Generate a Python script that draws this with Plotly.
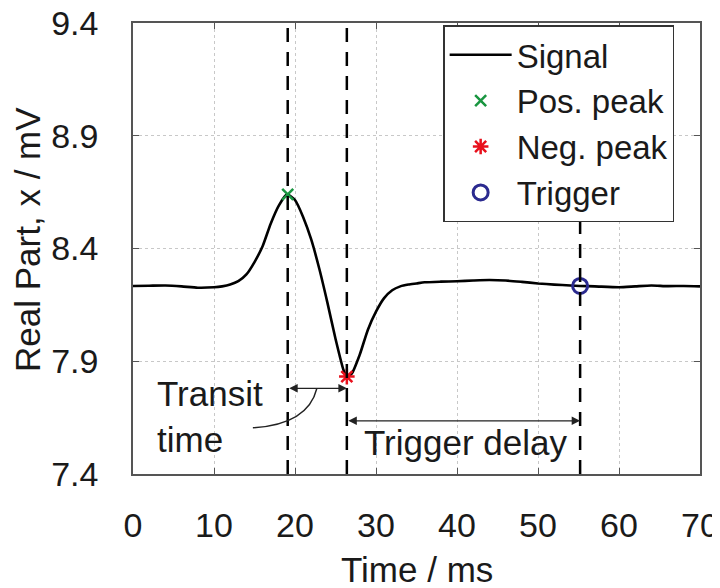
import plotly.graph_objects as go

# ---- data ----
time_ms = [0, 2, 4, 6, 8, 10, 11, 12, 13, 14, 15, 16, 17, 18, 19, 20, 21, 22, 23, 24,
           25, 26, 26.4, 27, 28, 29, 30, 31, 32, 33, 34, 35, 36, 38, 40, 42, 44, 46, 48,
           50, 52, 54, 55.2, 57, 60, 62, 64, 66, 68, 70]
signal_mv = [8.234, 8.235, 8.236, 8.232, 8.226, 8.228, 8.232, 8.240, 8.255, 8.285,
             8.34, 8.41, 8.51, 8.59, 8.64, 8.615, 8.54, 8.44, 8.31, 8.16,
             8.00, 7.86, 7.832, 7.845, 7.93, 8.04, 8.12, 8.18, 8.215, 8.232,
             8.24, 8.245, 8.25, 8.253, 8.255, 8.258, 8.26, 8.258, 8.252,
             8.245, 8.24, 8.236, 8.234, 8.232, 8.228, 8.232, 8.236, 8.233, 8.234, 8.232]

pos_peak_t, pos_peak_v = [19.1], [8.64]
neg_peak_t, neg_peak_v = [26.4], [7.832]
trigger_t, trigger_v = [55.2], [8.234]

x_ticks = [0, 10, 20, 30, 40, 50, 60, 70]
y_ticks = [7.4, 7.9, 8.4, 8.9, 9.4]

transit_arrow_y = 7.78
delay_arrow_y = 7.636

FONT = "Liberation Sans, Arial, Helvetica, sans-serif"
TXT = "#1a1a1a"
FS = 35

fig = go.Figure()
fig.add_trace(go.Scatter(x=time_ms, y=signal_mv, mode="lines", name="Signal",
                         line=dict(color="black", width=2.6, shape="spline", smoothing=0.6)))
fig.add_trace(go.Scatter(x=pos_peak_t, y=pos_peak_v, mode="markers", name="Pos. peak",
                         marker=dict(symbol="x-thin", size=11, color="#1a9641",
                                     line=dict(color="#1a9641", width=2.5))))
fig.add_trace(go.Scatter(x=neg_peak_t, y=neg_peak_v, mode="markers", name="Neg. peak",
                         marker=dict(symbol="asterisk", size=13, color="#e8101c",
                                     line=dict(color="#e8101c", width=2.5))))
fig.add_trace(go.Scatter(x=trigger_t, y=trigger_v, mode="markers", name="Trigger",
                         marker=dict(symbol="circle-open", size=15, color="#2b2a8f",
                                     line=dict(color="#2b2a8f", width=3))))

# vertical dashed lines
for t in [pos_peak_t[0], neg_peak_t[0], trigger_t[0]]:
    fig.add_shape(type="line", xref="x", yref="paper", x0=t, x1=t, y0=0, y1=1,
                  line=dict(color="black", width=2.5, dash="14px,10px"), layer="above")

# double arrows
fig.add_annotation(x=neg_peak_t[0], y=transit_arrow_y, ax=pos_peak_t[0], ay=transit_arrow_y,
                   xref="x", yref="y", axref="x", ayref="y", text="", showarrow=True,
                   arrowhead=2, arrowside="end+start", arrowsize=1.3, arrowwidth=1.3,
                   arrowcolor="#222", standoff=0, startstandoff=0)
fig.add_annotation(x=trigger_t[0], y=delay_arrow_y, ax=neg_peak_t[0], ay=delay_arrow_y,
                   xref="x", yref="y", axref="x", ayref="y", text="", showarrow=True,
                   arrowhead=2, arrowside="end+start", arrowsize=1.3, arrowwidth=1.3,
                   arrowcolor="#222", standoff=0, startstandoff=0)

# curved leader from "time" to transit arrow
fig.add_shape(type="path", xref="x", yref="y",
              path="M 14.8,7.605 Q 21.6,7.62 22.7,%.3f" % transit_arrow_y,
              line=dict(color="#222", width=1.5))

fig.add_annotation(x=2.7, y=7.655, xref="x", yref="y", text="Transit<br>time",
                   showarrow=False, xanchor="left", yanchor="middle", align="left",
                   font=dict(family=FONT, size=FS, color=TXT))
fig.add_annotation(x=41.0, y=7.54, xref="x", yref="y", text="Trigger delay",
                   showarrow=False, xanchor="center", yanchor="middle",
                   font=dict(family=FONT, size=FS, color=TXT))

# axis titles
fig.add_annotation(x=0.5, y=0, xref="paper", yref="paper", text="Time / ms",
                   showarrow=False, xanchor="center", yanchor="middle", yshift=-95,
                   borderpad=0, font=dict(family=FONT, size=FS, color=TXT))
fig.add_annotation(x=0, y=0.519, xref="paper", yref="paper", text="Real Part, x / mV",
                   showarrow=False, xanchor="center", yanchor="middle", textangle=-90,
                   xshift=-105, borderpad=0, font=dict(family=FONT, size=FS, color=TXT))

axis_common = dict(showline=True, linecolor="#555", linewidth=1.5, mirror="ticks",
                   ticks="inside", ticklen=6, tickcolor="#555", tickwidth=1.2,
                   showgrid=True, gridcolor="#c8c8c8", griddash="dot", gridwidth=1,
                   zeroline=False, automargin=False, ticklabeloverflow="allow",
                   tickfont=dict(family=FONT, size=34, color=TXT))

fig.update_xaxes(range=[0, 70], tickvals=x_ticks, ticktext=[str(v) for v in x_ticks],
                 ticklabelstandoff=20, **axis_common)
fig.update_yaxes(range=[7.4, 9.4], tickvals=y_ticks, ticktext=["%.1f" % v for v in y_ticks],
                 ticklabelstandoff=26, **axis_common)

fig.update_layout(
    width=712, height=580,
    margin=dict(l=125, r=20, t=15, b=114),
    paper_bgcolor="white", plot_bgcolor="white",
    font=dict(family=FONT, color=TXT),
    showlegend=True,
    legend=dict(x=0.547, y=0.995, xanchor="left", yanchor="top",
                bgcolor="white", bordercolor="#333", borderwidth=1.5,
                font=dict(family=FONT, size=33, color=TXT), itemwidth=62,
                tracegroupgap=0),
)

fig.write_html("out.html")
